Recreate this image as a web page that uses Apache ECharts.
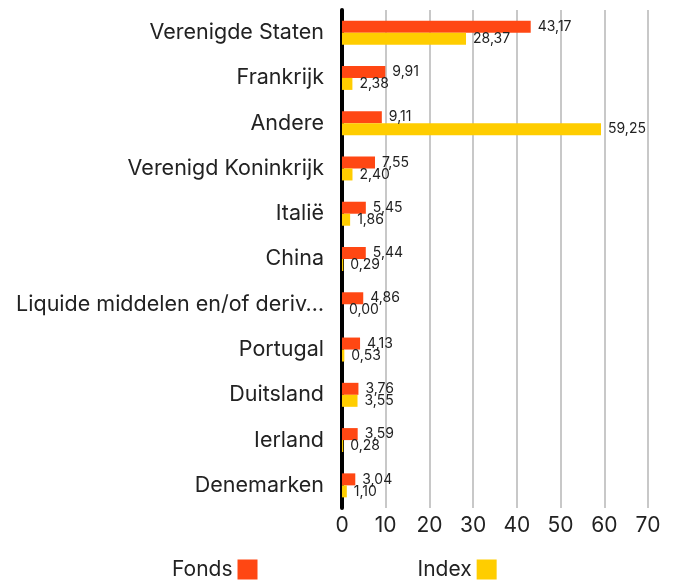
<!DOCTYPE html>
<html><head><meta charset="utf-8">
<script src="https://cdn.jsdelivr.net/npm/echarts@6/dist/echarts.min.js"></script>
<style>html,body{margin:0;padding:0;background:#fff}#c{width:675px;height:583px}</style>
</head><body><div id="c"></div>
<script>
var categories = ["Verenigde Staten","Frankrijk","Andere","Verenigd Koninkrijk","Italië","China","Liquide middelen en/of deriv…","Portugal","Duitsland","Ierland","Denemarken"];
var fondsValues = [43.17, 9.91, 9.11, 7.55, 5.45, 5.44, 4.86, 4.13, 3.76, 3.59, 3.04];
var indexValues = [28.37, 2.38, 59.25, 2.40, 1.86, 0.29, 0.00, 0.53, 3.55, 0.28, 1.10];
var xTicks = {min: 0, max: 70, interval: 10};
var seriesNames = ["Fonds", "Index"];

var font = "Inter, 'Noto Sans', sans-serif";
var fmt = function (p) { return p.value.toFixed(2).replace('.', ','); };
var chart = echarts.init(document.getElementById('c'));
chart.setOption({
  animation: false,
  textStyle: {fontFamily: font},
  grid: {left: 342, right: 27, top: 10, bottom: 75, containLabel: false},
  legend: {
    left: 167, top: 554, align: 'right', itemWidth: 20, itemHeight: 20, itemGap: 160,
    icon: 'rect',
    textStyle: {fontSize: 21, color: '#222', fontFamily: font},
    data: seriesNames
  },
  xAxis: {
    type: 'value', min: xTicks.min, max: xTicks.max, interval: xTicks.interval,
    axisLine: {show: false}, axisTick: {show: false},
    axisLabel: {fontSize: 21, color: '#222', margin: 7, fontFamily: font},
    splitLine: {show: true, lineStyle: {color: '#c8c8c8', width: 2}}
  },
  yAxis: {
    type: 'category', inverse: true, data: categories,
    axisLine: {show: true, lineStyle: {color: '#000', width: 4}},
    axisTick: {show: false},
    axisLabel: {fontSize: 21.5, color: '#222', margin: 18, fontFamily: font}
  },
  series: [
    {name: seriesNames[0], type: 'bar', data: fondsValues, barWidth: 12, barGap: '0%',
     itemStyle: {color: '#ff4713'},
     label: {show: true, position: 'right', distance: 7, fontSize: 14, color: '#222', fontFamily: font, formatter: fmt}},
    {name: seriesNames[1], type: 'bar', data: indexValues, barWidth: 12, barGap: '0%',
     itemStyle: {color: '#ffcd00'},
     label: {show: true, position: 'right', distance: 7, fontSize: 14, color: '#222', fontFamily: font, formatter: fmt}}
  ]
});
</script></body></html>
